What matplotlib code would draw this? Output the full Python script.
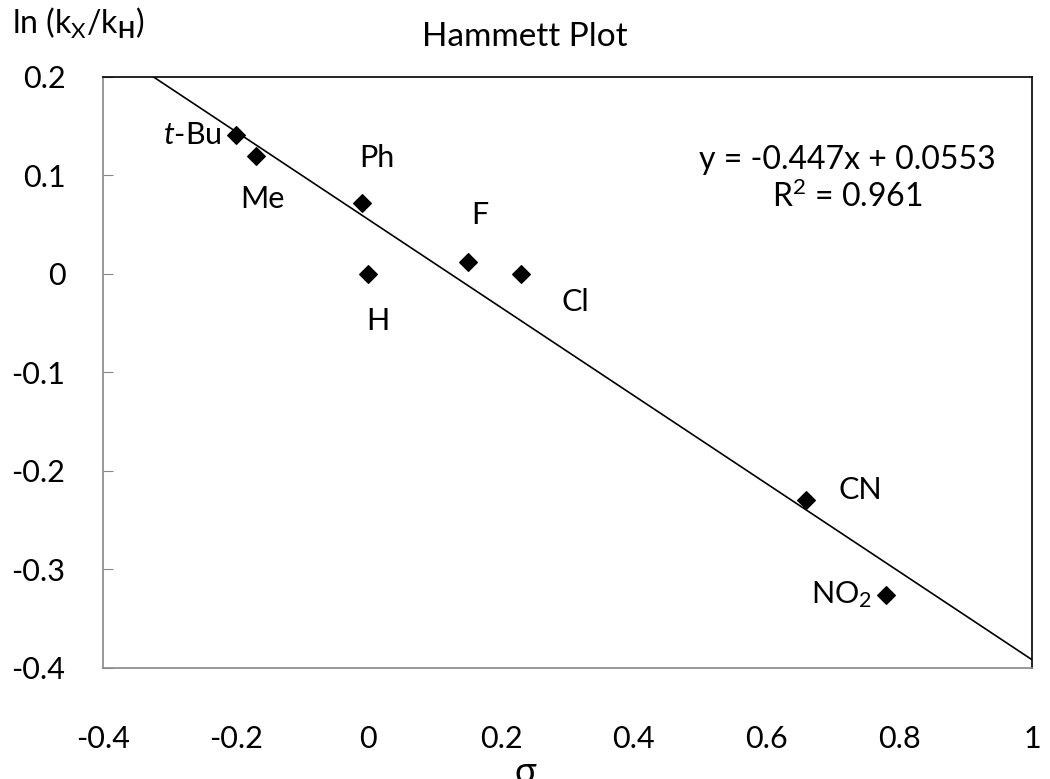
import numpy as np
import matplotlib
matplotlib.use("Agg")
import matplotlib.pyplot as plt

plt.rcParams.update({
    'font.family': ['Lato', 'DejaVu Sans'],
    'mathtext.fontset': 'custom',
    'mathtext.rm': 'Lato',
    'mathtext.it': 'Lato:italic',
    'mathtext.bf': 'Lato:bold',
})

# substituent sigma constants and ln(kX/kH)
labels = ['$\\mathit{t}$-Bu', 'Me', 'Ph', 'H', 'F', 'Cl', 'CN', 'NO$_2$']
sigma = [-0.20, -0.17, -0.01, 0.00, 0.15, 0.23, 0.66, 0.78]
ln_ratio = [0.141, 0.120, 0.072, 0.000, 0.012, 0.000, -0.229, -0.326]

# trendline as reported
slope = -0.447
intercept = 0.0553
r2 = 0.961

# label offsets in pixels and alignment
offsets = [(-14, 0), (7, -43), (15, 45), (9, -47), (12, 47), (54, -28), (54, 10), (-14, 0)]
aligns = ['right', 'center', 'center', 'center', 'center', 'center', 'center', 'right']

fig = plt.figure(figsize=(10.5, 7.79), dpi=100)
ax = fig.add_axes([0.098, 0.1425, 0.885, 0.7587])

ax.scatter(sigma, ln_ratio, marker='D', s=80, color='black', zorder=3)

x0 = (0.2 - intercept) / slope
xs = np.array([x0, 1.0])
ax.plot(xs, slope * xs + intercept, color='black', lw=1.2, zorder=2)

for lab, x, y, off, ha in zip(labels, sigma, ln_ratio, offsets, aligns):
    ax.annotate(lab, (x, y), xytext=off, textcoords='offset pixels',
                ha=ha, va='center', fontsize=22)

ax.text(0.801, 0.827, f"y = {slope}x + {intercept}\nR$^2$ = {r2}",
        transform=ax.transAxes, ha='center', va='center',
        multialignment='center', fontsize=23, linespacing=1.2)

ax.set_xlim(-0.4, 1.0)
ax.set_ylim(-0.4, 0.2)
ax.set_xticks(np.arange(-0.4, 1.01, 0.2))
ax.set_yticks(np.arange(-0.4, 0.21, 0.1))
ax.set_xticklabels(['-0.4', '-0.2', '0', '0.2', '0.4', '0.6', '0.8', '1'])
ax.set_yticklabels(['-0.4', '-0.3', '-0.2', '-0.1', '0', '0.1', '0.2'])
ax.tick_params(axis='x', length=0, pad=41, labelsize=22)
ax.tick_params(axis='y', direction='in', length=7, pad=27, labelsize=22, color='#888888')
for side in ['left', 'bottom']:
    ax.spines[side].set_color('#888888')
for side in ['top', 'right']:
    ax.spines[side].set_color('black')
for sp in ax.spines.values():
    sp.set_linewidth(1.2)

fig.text(0.5, 0.9525, 'Hammett Plot', ha='center', va='center', fontsize=24)
fig.text(0.011, 0.970, 'ln (k$_\\mathrm{X}$/k$_\\mathbf{H}$)', ha='left', va='center', fontsize=23)
fig.text(0.5, 0.008, '\u03c3', ha='center', va='center', fontsize=26)

fig.savefig('out.png', dpi=100)
